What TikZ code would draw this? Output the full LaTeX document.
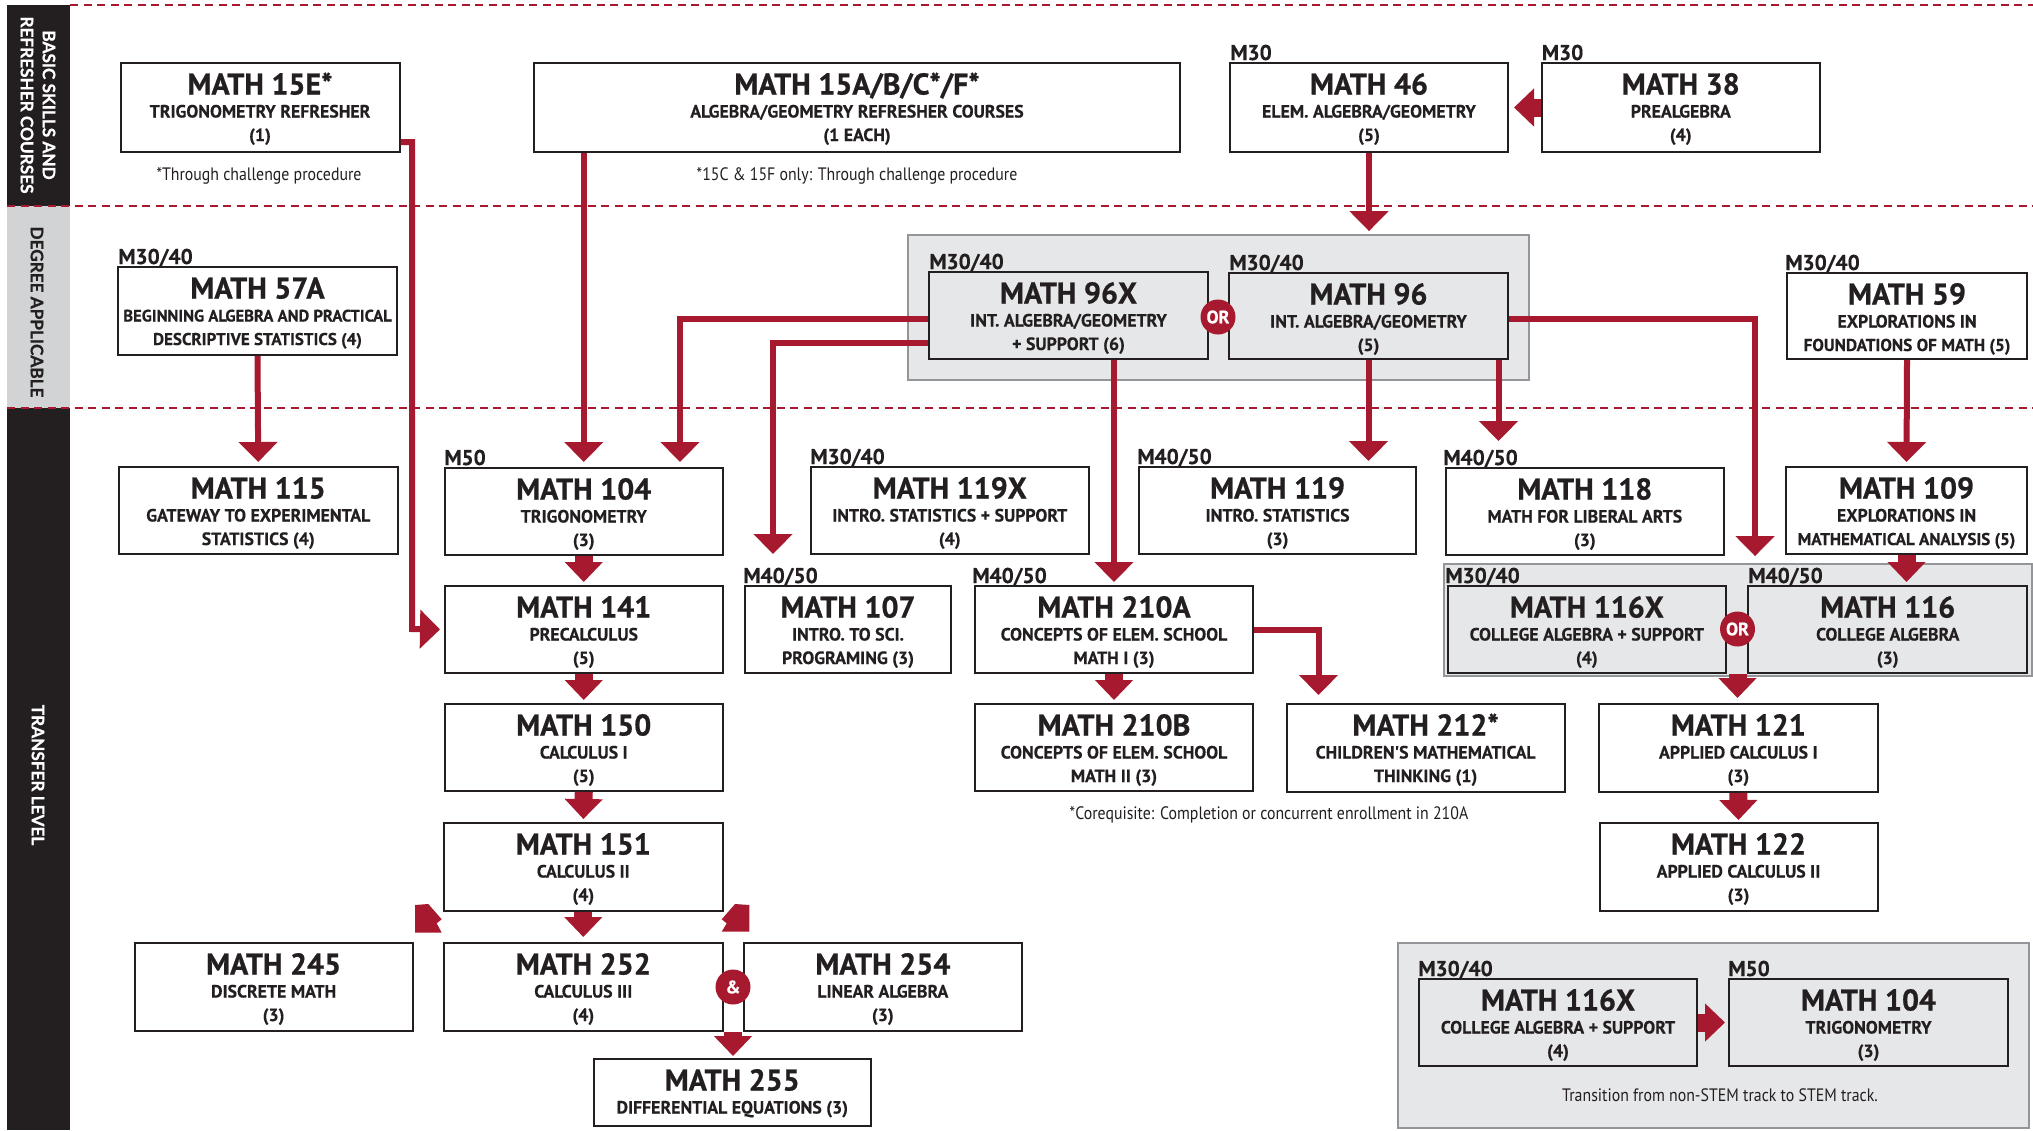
\documentclass[tikz,border=0pt]{standalone}
\usepackage{fontspec}
\setmainfont{PT Sans}
\newfontfamily\heavyf{PT Sans Bold}[FakeBold=0.7]
\newfontfamily\subf{PT Sans Bold}[FakeBold=0.35]
\newfontfamily\footf{PT Sans}[FakeStretch=0.88]
\newfontfamily\bandf{Lato}[FakeBold=0.8]
\usetikzlibrary{arrows.meta,fit}
\definecolor{crim}{RGB}{166,25,46}
\definecolor{ink}{RGB}{35,31,32}
\definecolor{boxgray}{RGB}{230,231,232}
\definecolor{bandgray}{RGB}{209,211,212}
\definecolor{edgegray}{RGB}{147,149,152}
% #1 name, #2 x1, #3 y1, #4 x2, #5 y2, #6 fill, #7 title, #8 line 2, #9 line 3
\newcommand{\crs}[9]{%
  \node[crsbox, fill=#6, fit={(#2,#3) (#4,#5)}] (#1) {};
  \node[ttl] at ({(#2+#4)/2},{#3+31.5}) {#7};
  \node[subl] at ({(#2+#4)/2},{#3+54.5}) {#8};
  \node[subl] at ({(#2+#4)/2},{#3+78}) {#9};
}
\newcommand{\lvl}[3]{\node[lbl] at (#1,{#2-3}) {#3};}
\newcommand{\smsub}[2]{{\fontsize{#1}{9}\selectfont #2}}
\begin{document}
\begin{tikzpicture}[x=0.5pt,y=-0.5pt,
  crsbox/.style={draw=ink, line width=1pt, inner sep=0pt},
  cont/.style={draw=edgegray, fill=boxgray, line width=0.9pt, inner sep=0pt},
  ttl/.style={anchor=base, inner sep=0pt, text=ink, font=\heavyf\fontsize{15}{15}\selectfont},
  subl/.style={anchor=base, inner sep=0pt, text=ink, font=\subf\fontsize{8.9}{9}\selectfont},
  lbl/.style={anchor=base west, inner sep=0pt, text=ink, font=\subf\fontsize{10.7}{11}\selectfont},
  note/.style={anchor=base, inner sep=0pt, text=ink, font=\footf\fontsize{9}{10}\selectfont},
  conn/.style={draw=crim, line width=3pt, -{Triangle[width=19pt,length=10pt]}},
  fatarrow/.style={draw=crim, line width=9pt, -{Triangle[width=18.5pt,length=10pt]}},
  badge/.style={circle, fill=crim, text=white, inner sep=0pt, minimum size=17.5pt, font=\heavyf\fontsize{9}{9}\selectfont},
  sepline/.style={draw=crim, line width=1.35pt, dash pattern=on 4pt off 2.75pt},
  bandtxt/.style={rotate=-90, align=center, inner sep=0pt, font=\bandf\bfseries\fontsize{8.6}{11}\selectfont}
]
\useasboundingbox (0,0) rectangle (2033,1130);
\fill[white] (0,0) rectangle (2033,1130);

% side band
\fill[ink] (7,5) rectangle (70,206);
\fill[bandgray] (7,206) rectangle (70,408);
\fill[ink] (7,408) rectangle (70,1130);
\node[bandtxt, text=white] (bandA) at (38,105) {BASIC SKILLS AND\\REFRESHER COURSES};
\node[bandtxt, text=ink] (bandB) at (37,312) {DEGREE APPLICABLE};
\node[bandtxt, text=white] (bandC) at (38,775) {TRANSFER LEVEL};

% separators
\draw[sepline] (70,5) -- (2033,5);
\draw[sepline] (7,206) -- (2033,206);
\draw[sepline] (7,408) -- (2033,408);

% containers
\node[cont, fit={(908,235) (1529,380)}] (c96) {};
\node[cont, fit={(1443.6,564) (2031.8,676)}] (c116) {};
\node[cont, fit={(1398,943) (2029,1128)}] (ctr) {};

% basic skills
\crs{m15e}{120.5}{63}{399.5}{152}{white}{MATH 15E*}{TRIGONOMETRY REFRESHER}{(1)}
\crs{m15a}{534}{63}{1180}{152}{white}{MATH 15A/B/C*/F*}{ALGEBRA/GEOMETRY REFRESHER COURSES}{(1 EACH)}
\crs{m46}{1230}{63}{1508}{152}{white}{MATH 46}{ELEM. ALGEBRA/GEOMETRY}{(5)}
\lvl{1230}{63}{M30}
\crs{m38}{1541.5}{63}{1820}{152}{white}{MATH 38}{PREALGEBRA}{(4)}
\lvl{1541.5}{63}{M30}
\node[note] (fn1) at (259,180) {*Through challenge procedure};
\node[note] (fn2) at (857,180) {*15C \& 15F only: Through challenge procedure};

% degree applicable
\crs{m57a}{118}{267}{397}{355}{white}{MATH 57A}{\smsub{8.3}{BEGINNING ALGEBRA AND PRACTICAL}}{\smsub{8.5}{DESCRIPTIVE STATISTICS (4)}}
\lvl{118}{267}{M30/40}
\crs{m96x}{929}{272}{1208}{359}{boxgray}{MATH 96X}{INT. ALGEBRA/GEOMETRY}{+ SUPPORT (6)}
\lvl{929}{272}{M30/40}
\crs{m96}{1229}{273}{1508}{359}{boxgray}{MATH 96}{INT. ALGEBRA/GEOMETRY}{(5)}
\lvl{1229}{273}{M30/40}
\node[badge] (or1) at (1218,317) {OR};
\crs{m59}{1787}{273}{2027}{359}{white}{MATH 59}{EXPLORATIONS IN}{\smsub{8.6}{FOUNDATIONS OF MATH (5)}}
\lvl{1785}{273}{M30/40}

% transfer level
\crs{m115}{119}{467}{397.5}{554}{white}{MATH 115}{GATEWAY TO EXPERIMENTAL}{STATISTICS (4)}
\crs{m104}{444.5}{468}{723}{555}{white}{MATH 104}{TRIGONOMETRY}{(3)}
\lvl{444}{468}{M50}
\crs{m119x}{810.5}{467}{1089}{554}{white}{MATH 119X}{INTRO. STATISTICS + SUPPORT}{(4)}
\lvl{810}{467}{M30/40}
\crs{m119}{1138.7}{467}{1416.4}{554}{white}{MATH 119}{INTRO. STATISTICS}{(3)}
\lvl{1137}{467}{M40/50}
\crs{m118}{1445.6}{468}{1724}{555}{white}{MATH 118}{MATH FOR LIBERAL ARTS}{(3)}
\lvl{1443}{468}{M40/50}
\crs{m109}{1786}{467}{2027}{554}{white}{MATH 109}{EXPLORATIONS IN}{\smsub{8.5}{MATHEMATICAL ANALYSIS (5)}}

\crs{m141}{444.5}{586}{723}{673}{white}{MATH 141}{PRECALCULUS}{(5)}
\crs{m107}{745}{586}{951}{673}{white}{MATH 107}{INTRO. TO SCI.}{PROGRAMING (3)}
\lvl{743}{586}{M40/50}
\crs{m210a}{975}{586}{1253}{673}{white}{MATH 210A}{CONCEPTS OF ELEM. SCHOOL}{MATH I (3)}
\lvl{972}{586}{M40/50}
\crs{m116x}{1447.6}{586}{1726}{673}{boxgray}{MATH 116X}{COLLEGE ALGEBRA + SUPPORT}{(4)}
\lvl{1445}{586}{M30/40}
\crs{m116}{1748.4}{586}{2027}{673}{boxgray}{MATH 116}{COLLEGE ALGEBRA}{(3)}
\lvl{1748}{586}{M40/50}
\node[badge] (or2) at (1737.5,629) {OR};

\crs{m150}{444.5}{704}{723}{791}{white}{MATH 150}{CALCULUS I}{(5)}
\crs{m210b}{975}{704}{1253}{791}{white}{MATH 210B}{CONCEPTS OF ELEM. SCHOOL}{MATH II (3)}
\crs{m212}{1286.5}{704}{1564.7}{792}{white}{MATH 212*}{CHILDREN'S MATHEMATICAL}{THINKING (1)}
\crs{m121}{1599}{704}{1877.6}{792}{white}{MATH 121}{APPLIED CALCULUS I}{(3)}
\node[note] (fn3) at (1269,819) {*Corequisite: Completion or concurrent enrollment in 210A};

\crs{m151}{444}{823}{722.6}{911}{white}{MATH 151}{CALCULUS II}{(4)}
\crs{m122}{1599.5}{823}{1877.5}{911}{white}{MATH 122}{APPLIED CALCULUS II}{(3)}

\crs{m245}{134.7}{943}{412.5}{1031}{white}{MATH 245}{DISCRETE MATH}{(3)}
\crs{m252}{444}{943}{722.6}{1031}{white}{MATH 252}{CALCULUS III}{(4)}
\crs{m254}{743.6}{943}{1022}{1031}{white}{MATH 254}{LINEAR ALGEBRA}{(3)}
\node[badge] (amp) at (733,987) {\&};
\crs{m255}{593.5}{1059}{871}{1126}{white}{MATH 255}{DIFFERENTIAL EQUATIONS (3)}{}

% transition box
\crs{t116x}{1419}{979}{1697}{1066}{boxgray}{MATH 116X}{COLLEGE ALGEBRA + SUPPORT}{(4)}
\lvl{1418}{979}{M30/40}
\crs{t104}{1729}{979}{2008}{1066}{boxgray}{MATH 104}{TRIGONOMETRY}{(3)}
\lvl{1728}{979}{M50}
\node[note] (fn4) at (1720,1101) {Transition from non-STEM track to STEM track.};

% thin connectors
\draw[conn, shorten >=1.75pt] (m15e.east |- 0,142) -| (412,629) -- (m141.west);
\draw[conn, shorten >=2.5pt] (m15a.south -| m104.north) -- (m104.north);
\draw[conn, shorten >=2pt] (m57a.south) -- (m115.north);
\draw[conn, shorten >=1.5pt] (m46.south) -- (c96.north -| m46.south);
\draw[conn, shorten >=2.5pt] (m96x.west |- 0,319) -| (m104.north -| 680,0);
\draw[conn, shorten >=15.5pt] (m96x.west |- 0,343) -| (m107.north -| 773,0);
\draw[conn, shorten >=1.5pt] (m96x.south -| m210a.north) -- (m210a.north);
\draw[conn, shorten >=2.5pt] (m96.south) -- (m119.north -| m96.south);
\draw[conn, shorten >=13pt] (m96.south -| 1498.5,0) -- (m118.north -| 1498.5,0);
\draw[conn, shorten >=3.5pt] (m96.east |- 0,319) -| (c116.north -| 1755,0);
\draw[conn, shorten >=2pt] (m59.south) -- (m109.north);
\draw[conn, shorten >=4pt] (m210a.east |- 0,630) -| (m212.north -| 1318.5,0);

% fat arrows
\draw[fatarrow, shorten >=2.5pt] (m38.west) -- (m46.east);
\draw[fatarrow, shorten >=1.5pt] (m104.south) -- (m141.north);
\draw[fatarrow, shorten >=1.5pt] (m141.south) -- (m150.north);
\draw[fatarrow, shorten >=1.5pt] (m150.south) -- (m151.north);
\draw[fatarrow, shorten >=2.5pt] (m151.south) -- (m252.north);
\draw[fatarrow, shorten >=1.5pt] (m210a.south) -- (m210b.north);
\draw[fatarrow, shorten >=1.5pt] (m109.south) -- (m116.north -| m109.south);
\draw[fatarrow, shorten >=2.5pt] (m116x.south -| or2.center) -- (m121.north -| or2.center);
\draw[fatarrow, shorten >=1pt] (m121.south) -- (m122.north);
\draw[fatarrow, shorten >=1pt] (m252.south -| amp.center) -- (m255.north -| amp.center);
\draw[fatarrow, shorten >=1.5pt] (t116x.east) -- (t104.west);

% partial diagonal arrows below MATH 151
\fill[crim] (415,905) -- (428.3,904) -- (441.7,919.3) -- (436.7,923.3) -- (441.7,932.7) -- (415,932.7) -- cycle;
\fill[crim] (749.3,905) -- (735,904) -- (721.7,919.3) -- (726.7,923.3) -- (721.7,931.7) -- (749.3,931.7) -- cycle;
\end{tikzpicture}
\end{document}
